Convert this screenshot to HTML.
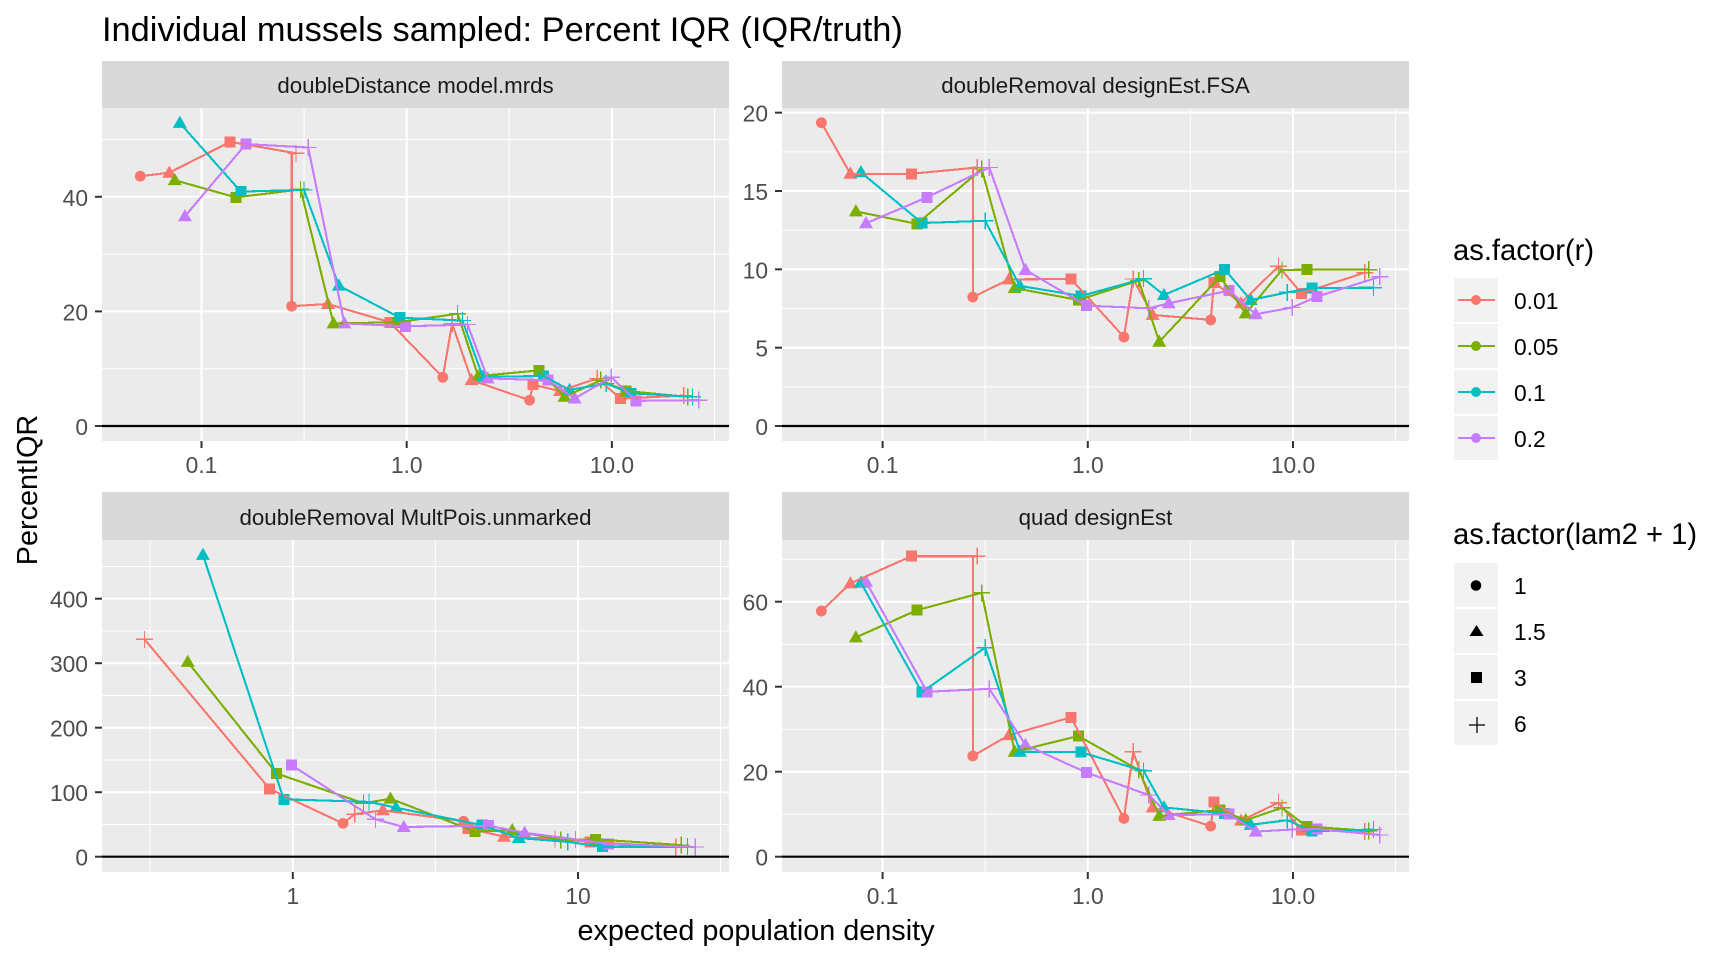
<!DOCTYPE html>
<html lang="en">
<head>
<meta charset="utf-8">
<title>Individual mussels sampled: Percent IQR</title>
<style>
html,body{margin:0;padding:0;background:#fff;}
svg{display:block;font-family:"Liberation Sans",Arial,sans-serif;}
</style>
</head>
<body>
<svg id="chart" xmlns="http://www.w3.org/2000/svg" width="1728" height="960" viewBox="0 0 1728 960">
  <rect x="0" y="0" width="1728" height="960" fill="#ffffff"/>
  <text x="102" y="41" font-size="34.4" fill="#000">Individual mussels sampled: Percent IQR (IQR/truth)</text>
  <text transform="translate(37,490) rotate(-90)" text-anchor="middle" font-size="28.8" fill="#000">PercentIQR</text>
  <text x="756" y="940" text-anchor="middle" font-size="28.8" fill="#000">expected population density</text>
  <g id="panels"></g>

  <g>
    <text x="1453" y="260" font-size="29.2" fill="#000">as.factor(r)</text>
    <g>
      <rect x="1454" y="278" width="44" height="44" fill="#F2F2F2"/>
      <line x1="1458" x2="1495" y1="300" y2="300" stroke="#F8766D" stroke-width="2" shape-rendering="crispEdges"/>
      <circle cx="1476" cy="300" r="5" fill="#F8766D"/>
      <text x="1514" y="309" font-size="22.8" fill="#000">0.01</text>
    </g>
    <g>
      <rect x="1454" y="324" width="44" height="44" fill="#F2F2F2"/>
      <line x1="1458" x2="1495" y1="346" y2="346" stroke="#7CAE00" stroke-width="2" shape-rendering="crispEdges"/>
      <circle cx="1476" cy="346" r="5" fill="#7CAE00"/>
      <text x="1514" y="355" font-size="22.8" fill="#000">0.05</text>
    </g>
    <g>
      <rect x="1454" y="370" width="44" height="44" fill="#F2F2F2"/>
      <line x1="1458" x2="1495" y1="392" y2="392" stroke="#00BFC4" stroke-width="2" shape-rendering="crispEdges"/>
      <circle cx="1476" cy="392" r="5" fill="#00BFC4"/>
      <text x="1514" y="401" font-size="22.8" fill="#000">0.1</text>
    </g>
    <g>
      <rect x="1454" y="416" width="44" height="44" fill="#F2F2F2"/>
      <line x1="1458" x2="1495" y1="438" y2="438" stroke="#C77CFF" stroke-width="2" shape-rendering="crispEdges"/>
      <circle cx="1476" cy="438" r="5" fill="#C77CFF"/>
      <text x="1514" y="447" font-size="22.8" fill="#000">0.2</text>
    </g>
  </g>

  <g>
    <text x="1453" y="544" font-size="29.2" fill="#000">as.factor(lam2 + 1)</text>
    <g>
      <rect x="1454" y="563" width="44" height="44" fill="#F2F2F2"/>
      <circle cx="1476" cy="585.5" r="5.3" fill="#000"/>
      <text x="1514" y="594" font-size="22.8" fill="#000">1</text>
    </g>
    <g>
      <rect x="1454" y="609" width="44" height="44" fill="#F2F2F2"/>
      <polygon points="1476.5,625 1483.5,636 1469.5,636" fill="#000"/>
      <text x="1514" y="640" font-size="22.8" fill="#000">1.5</text>
    </g>
    <g>
      <rect x="1454" y="655" width="44" height="44" fill="#F2F2F2"/>
      <rect x="1471" y="672" width="11" height="11" fill="#000"/>
      <text x="1514" y="686" font-size="22.8" fill="#000">3</text>
    </g>
    <g>
      <rect x="1454" y="701" width="44" height="44" fill="#F2F2F2"/>
      <path d="M1469 725H1485M1477 717V733" stroke="#000" stroke-width="1.3" fill="none"/>
      <text x="1514" y="732" font-size="22.8" fill="#000">6</text>
    </g>
  </g>
</svg>

<script>
// Category labels
const rLevels = ['0.01', '0.05', '0.1', '0.2'];
const rColors = ['#F8766D', '#7CAE00', '#00BFC4', '#C77CFF'];

// Expected population density for each r level
const densityR001 = [0.0503,0.0697,0.138,0.289,0.275,0.275,0.413,0.828,1.50,1.665,2.07,3.97,4.12,5.58,8.49,11.0,22.4];
const densityR005 = [0.0741,0.147,0.304,0.44,0.90,1.77,2.23,4.41,5.88,8.83,11.7,23.4];
const densityR01  = [0.0784,0.1555,0.316,0.467,0.927,1.87,2.35,4.64,6.22,9.38,12.4,24.7];
const densityR02  = [0.083,0.1645,0.331,0.497,0.986,1.98,2.48,4.89,6.58,9.93,13.1,26.5];

// Density as plotted in the MultPois.unmarked panel
const multDensityR001 = [0.0503,0.0697,0.138,0.302,0.275,0.275,0.413,0.83,1.50,1.65,2.07,3.97,4.12,5.5,8.3,11.0,22.0];
const multDensityR005 = [0.0741,0.147,0.304,0.428,0.877,1.77,2.2,4.35,5.88,8.7,11.5,23.0];
const multDensityR01  = [0.0784,0.1555,0.316,0.484,0.93,1.85,2.3,4.6,6.2,9.2,12.2,24.2];
const multDensityR02  = [0.083,0.1645,0.331,0.497,0.99,1.95,2.45,4.85,6.5,9.8,12.8,25.8];

// Shape of each point: c circle, t triangle, s square, p plus, v line bend without a marker
const shapesR001 = ['c','t','s','p','v','c','t','s','c','p','t','c','s','t','p','s','p'];
const shapesOther = ['t','s','p','t','s','p','t','s','t','p','s','p'];

// doubleDistance model.mrds
const mrdsR001 = [43.6,44.2,49.6,47.6,47.6,20.9,21.3,18.1,8.5,17.9,8.0,4.5,7.2,6.1,8.3,4.8,5.3];
const mrdsR005 = [42.9,39.9,41.3,17.9,18.1,19.6,8.7,9.7,5.1,8.0,6.1,5.1];
const mrdsR01  = [52.9,40.9,41.2,24.5,18.9,18.4,8.6,8.7,6.3,7.4,5.7,5.1];
const mrdsR02  = [36.6,49.2,48.6,17.9,17.4,17.7,8.3,8.0,4.8,8.5,4.4,4.5];

// doubleRemoval designEst.FSA
const fsaR001 = [19.36,16.1,16.1,16.5,16.5,8.23,9.36,9.38,5.68,9.38,7.09,6.77,9.17,7.83,10.2,8.47,9.79];
const fsaR005 = [13.7,12.9,16.4,8.8,8.04,9.28,5.38,9.53,7.19,9.96,9.98,9.98];
const fsaR01  = [16.2,12.96,13.1,8.94,8.3,9.4,8.36,10,8.04,8.53,8.8,8.83];
const fsaR02  = [12.94,14.6,16.5,9.96,7.68,7.51,7.83,8.64,7.13,7.57,8.26,9.53];

// doubleRemoval MultPois.unmarked
const multR001 = [null,null,null,337,null,null,null,105,51.7,66,72,55,44,31,27.7,23,15];
const multR005 = [null,null,null,302,129,83,90,39,41,26,27,18];
const multR01  = [null,null,null,468,89,85,76,49,29,23,15.5,15.5];
const multR02  = [null,null,null,null,142,58,46,48,37,27,20,15];

// quad designEst
const quadR001 = [57.8,64.3,70.7,70.7,70.7,23.7,28.6,32.8,9.0,24.7,11.6,7.2,12.9,8.5,12.7,6.3,5.9];
const quadR005 = [51.6,58,62.1,24.7,28.4,20.4,9.6,11,8.6,11.5,7.1,6.1];
const quadR01  = [64.5,38.7,49.2,24.7,24.6,20.2,11.6,10.2,7.5,8.6,6,6.4];
const quadR02  = [64.7,38.8,39.5,26.3,19.8,14.5,9.8,10,5.9,6.4,6.5,5.1];

// Tick labels and break values
const xBreaksWide = [0.1, 1, 10];
const xLabelsWide = ['0.1', '1.0', '10.0'];
const xBreaksNarrow = [1, 10];
const xLabelsNarrow = ['1', '10'];
const xMinorWide = [0.316, 3.16, 31.6];
const yBreaksMrds = [0, 20, 40];
const yMinorMrds = [10, 30, 50];
const yBreaksFsa = [0, 5, 10, 15, 20];
const yMinorFsa = [2.5, 7.5, 12.5, 17.5];
const yBreaksMult = [0, 100, 200, 300, 400];
const yMinorMult = [50, 150, 250, 350, 450];
const yBreaksQuad = [0, 20, 40, 60];
const yMinorQuad = [10, 30, 50, 70];

const densities = [densityR001, densityR005, densityR01, densityR02];
const multDensities = [multDensityR001, multDensityR005, multDensityR01, multDensityR02];
const shapeSets = [shapesR001, shapesOther, shapesOther, shapesOther];

const panelDefs = [
  { title:'doubleDistance model.mrds', slug:'mrds', left:102, right:729, stripTop:61, stripBase:93, top:108, bottom:441, x1:406.7, dec:205.2, y0:426, unit:5.73,
    xb:xBreaksWide, xl:xLabelsWide, xm:xMinorWide, yb:yBreaksMrds, ym:yMinorMrds, xs:densities, vals:[mrdsR001,mrdsR005,mrdsR01,mrdsR02] },
  { title:'doubleRemoval designEst.FSA', slug:'fsa', left:782, right:1409, stripTop:61, stripBase:93, top:108, bottom:441, x1:1087.8, dec:205.2, y0:426, unit:15.667,
    xb:xBreaksWide, xl:xLabelsWide, xm:xMinorWide, yb:yBreaksFsa, ym:yMinorFsa, xs:densities, vals:[fsaR001,fsaR005,fsaR01,fsaR02] },
  { title:'doubleRemoval MultPois.unmarked', slug:'mult', left:102, right:729, stripTop:492, stripBase:525, top:540, bottom:872, x1:292.8, dec:285.2, y0:856.7, unit:0.645,
    xb:xBreaksNarrow, xl:xLabelsNarrow, xm:xMinorWide, yb:yBreaksMult, ym:yMinorMult, xs:multDensities, vals:[multR001,multR005,multR01,multR02] },
  { title:'quad designEst', slug:'quad', left:782, right:1409, stripTop:492, stripBase:525, top:540, bottom:872, x1:1087.8, dec:205.2, y0:856.7, unit:4.25,
    xb:xBreaksWide, xl:xLabelsWide, xm:xMinorWide, yb:yBreaksQuad, ym:yMinorQuad, xs:densities, vals:[quadR001,quadR005,quadR01,quadR02] }
];

const NS = 'http://www.w3.org/2000/svg';

function mk(parent, tag, attrs, text) {
  const node = document.createElementNS(NS, tag);
  for (const k in attrs) node.setAttribute(k, attrs[k]);
  if (text !== undefined) node.textContent = text;
  parent.appendChild(node);
  return node;
}

function drawMarker(g, shape, cx, cy, color) {
  let el;
  if (shape === 'c') {
    el = mk(g, 'circle', { cx: cx, cy: cy, r: 5.4, fill: color });
  } else if (shape === 't') {
    el = mk(g, 'polygon', { points: (cx) + ',' + (cy - 7.2) + ' ' + (cx + 7) + ',' + (cy + 5) + ' ' + (cx - 7) + ',' + (cy + 5), fill: color });
  } else if (shape === 's') {
    el = mk(g, 'rect', { x: cx - 5.5, y: cy - 5.5, width: 11, height: 11, fill: color, 'shape-rendering': 'crispEdges' });
  } else {
    el = mk(g, 'path', { d: 'M' + (cx - 8.5) + ' ' + cy + 'H' + (cx + 8.5) + 'M' + cx + ' ' + (cy - 8.5) + 'V' + (cy + 8.5), stroke: color, 'stroke-width': 1.3, fill: 'none', 'shape-rendering': 'crispEdges' });
  }
  
  
}

function drawPanel(p) {
  const root = document.getElementById('panels');
  const xScale = function (v) { return p.x1 + p.dec * Math.log10(v); };
  const yScale = function (v) { return p.y0 - p.unit * v; };

  const g = mk(root, 'g', {});
  
  

  const strip = mk(g, 'rect', { x: p.left, y: p.stripTop, width: p.right - p.left, height: p.top - p.stripTop, fill: '#D9D9D9' });
  
  

  const stripText = mk(g, 'text', { x: (p.left + p.right) / 2, y: p.stripBase, 'text-anchor': 'middle', 'font-size': 22.3, fill: '#1A1A1A' }, p.title);
  
  

  const bg = mk(g, 'rect', { x: p.left, y: p.top, width: p.right - p.left, height: p.bottom - p.top, fill: '#EBEBEB' });
  
  

  p.ym.forEach(function (v) {
    const l = mk(g, 'line', { x1: p.left, x2: p.right, y1: yScale(v), y2: yScale(v), stroke: '#fff', 'stroke-width': 1 });
    
    
  });
  p.xm.forEach(function (v) {
    const l = mk(g, 'line', { x1: xScale(v), x2: xScale(v), y1: p.top, y2: p.bottom, stroke: '#fff', 'stroke-width': 1 });
    
    
  });
  p.yb.forEach(function (v) {
    const l = mk(g, 'line', { x1: p.left, x2: p.right, y1: yScale(v), y2: yScale(v), stroke: '#fff', 'stroke-width': 2 });
    
    
    const t = mk(g, 'line', { x1: p.left - 7, x2: p.left, y1: yScale(v), y2: yScale(v), stroke: '#333', 'stroke-width': 2 });
    
    
    const lab = mk(g, 'text', { x: p.left - 14, y: yScale(v) + 9, 'text-anchor': 'end', 'font-size': 22.8, fill: '#4D4D4D' }, String(v));
    
    
  });
  p.xb.forEach(function (v, i) {
    const l = mk(g, 'line', { x1: xScale(v), x2: xScale(v), y1: p.top, y2: p.bottom, stroke: '#fff', 'stroke-width': 2 });
    
    
    const t = mk(g, 'line', { x1: xScale(v), x2: xScale(v), y1: p.bottom, y2: p.bottom + 7, stroke: '#333', 'stroke-width': 2 });
    
    
    const lab = mk(g, 'text', { x: xScale(v), y: p.bottom + 32, 'text-anchor': 'middle', 'font-size': 22.8, fill: '#4D4D4D' }, p.xl[i]);
    
    
  });

  const zero = mk(g, 'line', { x1: p.left, x2: p.right, y1: yScale(0), y2: yScale(0), stroke: '#000', 'stroke-width': 2.2 });
  
  

  // Points first, then lines
  p.vals.forEach(function (vals, s) {
    const sg = mk(g, 'g', {});
    
    
    vals.forEach(function (v, i) {
      const shape = shapeSets[s][i];
      if (v === null || shape === 'v') return;
      drawMarker(sg, shape, xScale(p.xs[s][i]), yScale(v), rColors[s]);
    });
  });
  p.vals.forEach(function (vals, s) {
    const pts = [];
    vals.forEach(function (v, i) {
      if (v === null) return;
      pts.push(xScale(p.xs[s][i]).toFixed(1) + ',' + yScale(v).toFixed(1));
    });
    const line = mk(g, 'polyline', { points: pts.join(' '), fill: 'none', stroke: rColors[s], 'stroke-width': 2.1, 'stroke-linejoin': 'round', 'shape-rendering': 'crispEdges' });
    
    
  });
}

panelDefs.forEach(drawPanel);
</script>
</body>
</html>
